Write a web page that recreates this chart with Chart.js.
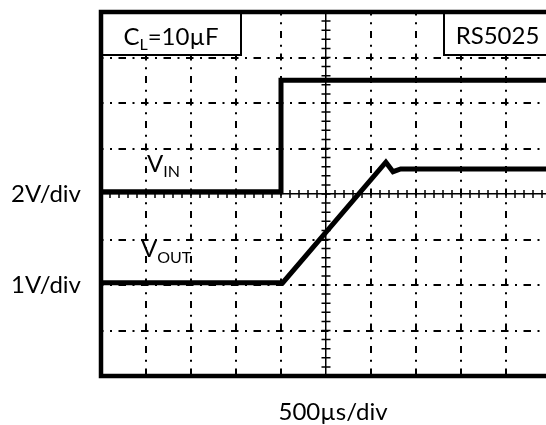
<!DOCTYPE html>
<html>
<head>
<meta charset="utf-8">
<script src="https://cdn.jsdelivr.net/npm/chart.js@4/dist/chart.umd.min.js"></script>
<style>
  html, body { margin: 0; padding: 0; background: #fff; overflow: hidden; }
  #wrap { width: 546px; height: 425px; overflow: hidden; }
  canvas { display: block; }
</style>
</head>
<body>
<div id="wrap"><canvas id="scope" width="560" height="425"></canvas></div>
<script>
// time base: 500 µs per division, 10 divisions
const timeTicks = [0, 500, 1000, 1500, 2000, 2500, 3000, 3500, 4000, 4500, 5000];

// input step (volts, 2 V/div)
const vinTime = [0, 2000, 2000, 5000];
const vinVolts = [0.1, 0.1, 5.0, 5.0];

// output ramp with small overshoot (volts, 1 V/div)
const voutTime = [0, 2020, 3165, 3245, 3330, 5000];
const voutVolts = [0.05, 0.05, 2.70, 2.49, 2.55, 2.55];

// left side labels, placed at each trace's zero level (VIN axis volts)
const yLabelValues = [0, -4];
const yLabelTexts = ['2V/div', '1V/div'];

const FONT = 'Lato, "Open Sans", sans-serif';
const TEXT_SIZE = 24;
const SUB_SIZE = 16;
const CENTER_T = 2500;

const toPoints = (xs, ys) => xs.map((x, i) => ({ x: x, y: ys[i] }));

// draw text runs one after another (for subscripts)
function drawSub(ctx, parts, x, y) {
    ctx.textAlign = 'left';
    ctx.textBaseline = 'alphabetic';
    parts.forEach(p => {
        ctx.font = p.size + 'px ' + FONT;
        ctx.fillText(p.text, x, y + (p.drop || 0));
        x += ctx.measureText(p.text).width;
    });
}

function measureParts(ctx, parts) {
    let w = 0;
    parts.forEach(p => {
        ctx.font = p.size + 'px ' + FONT;
        w += ctx.measureText(p.text).width;
    });
    return w;
}

const scopeDecor = {
    id: 'scopeDecor',
    beforeDatasetsDraw(chart) {
        // minor ticks along the centre cross
        const { ctx, scales: { x, y } } = chart;
        const cx = x.getPixelForValue(CENTER_T);
        const cy = y.getPixelForValue(0);
        ctx.save();
        ctx.strokeStyle = '#000';
        ctx.lineWidth = 1.5;
        ctx.beginPath();
        for (let k = 0; k <= 50; k++) {
            const px = x.getPixelForValue(k * 100);
            ctx.moveTo(px, cy - 4);
            ctx.lineTo(px, cy + 4);
        }
        for (let k = -20; k <= 20; k++) {
            const py = y.getPixelForValue(k * 0.4);
            ctx.moveTo(cx - 4.5, py);
            ctx.lineTo(cx + 4.5, py);
        }
        ctx.stroke();
        ctx.restore();
    },
    afterDatasetsDraw(chart) {
        const { ctx, chartArea: a } = chart;
        ctx.save();
        ctx.strokeStyle = '#000';

        // label boxes in the top corners
        const boxH = 43;
        const leftBoxR = 241;
        const rightBoxL = 444;
        ctx.lineWidth = 2;
        ctx.fillStyle = '#fff';
        ctx.fillRect(a.left, a.top, leftBoxR - a.left, boxH);
        ctx.fillRect(rightBoxL, a.top, a.right - rightBoxL, boxH);
        ctx.strokeRect(a.left, a.top, leftBoxR - a.left, boxH);
        ctx.strokeRect(rightBoxL, a.top, a.right - rightBoxL, boxH);
        ctx.fillStyle = '#000';

        const cl = [
            { text: 'C', size: TEXT_SIZE },
            { text: 'L', size: SUB_SIZE, drop: 5 },
            { text: '=10µF', size: TEXT_SIZE }
        ];
        drawSub(ctx, cl, (a.left + leftBoxR) / 2 - measureParts(ctx, cl) / 2, 45);
        const rs = [{ text: 'RS5025', size: TEXT_SIZE }];
        drawSub(ctx, rs, (rightBoxL + a.right) / 2 - measureParts(ctx, rs) / 2, 44);

        // trace names
        drawSub(ctx, [
            { text: 'V', size: TEXT_SIZE },
            { text: 'IN', size: SUB_SIZE, drop: 5 }
        ], 147, 172);
        drawSub(ctx, [
            { text: 'V', size: TEXT_SIZE },
            { text: 'OUT', size: SUB_SIZE, drop: 6 }
        ], 141, 257);

        // time base label
        ctx.font = TEXT_SIZE + 'px ' + FONT;
        ctx.textAlign = 'center';
        ctx.fillText('500µs/div', 333, 420);

        // heavy screen frame
        ctx.lineWidth = 4.5;
        ctx.strokeRect(a.left, a.top, a.right - a.left, a.bottom - a.top);
        ctx.restore();
    }
};

const ctx = document.getElementById('scope').getContext('2d');
new Chart(ctx, {
    type: 'line',
    data: {
        datasets: [
            {
                label: 'VIN',
                data: toPoints(vinTime, vinVolts),
                yAxisID: 'y',
                borderColor: '#000',
                borderWidth: 5,
                pointRadius: 0,
                tension: 0,
                fill: false
            },
            {
                label: 'VOUT',
                data: toPoints(voutTime, voutVolts),
                yAxisID: 'yOut',
                borderColor: '#000',
                borderWidth: 5,
                pointRadius: 0,
                tension: 0,
                fill: false
            }
        ]
    },
    options: {
        responsive: false,
        animation: false,
        events: [],
        layout: { padding: { left: 0, top: 12, right: 9, bottom: 0 } },
        plugins: {
            legend: { display: false },
            tooltip: { enabled: false }
        },
        scales: {
            x: {
                type: 'linear',
                min: 0,
                max: 5000,
                afterBuildTicks: s => { s.ticks = timeTicks.map(v => ({ value: v })); },
                afterFit: s => {
                    s.height = 49;
                    s.paddingLeft = 0;
                    s.paddingRight = 0;
                },
                ticks: { display: false },
                grid: {
                    color: '#000',
                    drawTicks: false,
                    lineWidth: c => (c.tick && c.tick.value === CENTER_T) ? 1.5 : 2
                },
                border: {
                    display: false,
                    dash: c => (c.tick && c.tick.value === CENTER_T) ? [] : [7, 6.75, 2, 6.75],
                    dashOffset: 3.5
                }
            },
            y: {
                type: 'linear',
                position: 'left',
                min: -8,
                max: 8,
                afterFit: s => {
                    s.width = 101;
                    s.paddingTop = 0;
                    s.paddingBottom = 0;
                },
                ticks: {
                    stepSize: 2,
                    autoSkip: false,
                    padding: 20,
                    color: '#000',
                    font: { family: FONT, size: TEXT_SIZE },
                    callback: v => {
                        const i = yLabelValues.indexOf(v);
                        return i < 0 ? '' : yLabelTexts[i];
                    }
                },
                grid: {
                    color: '#000',
                    drawTicks: false,
                    lineWidth: c => (c.tick && c.tick.value === 0) ? 1.5 : 2
                },
                border: {
                    display: false,
                    dash: c => (c.tick && c.tick.value === 0) ? [] : [7.5, 6.5, 2, 6.5],
                    dashOffset: 5
                }
            },
            yOut: {
                type: 'linear',
                display: false,
                min: -2,
                max: 6
            }
        }
    },
    plugins: [scopeDecor]
});
</script>
</body>
</html>
